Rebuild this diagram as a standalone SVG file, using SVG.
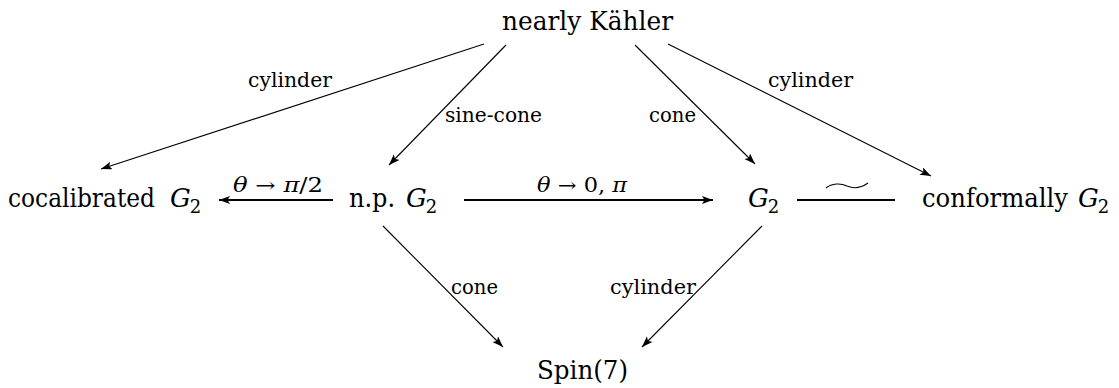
<svg xmlns="http://www.w3.org/2000/svg" width="1119" height="388" viewBox="0 0 1119 388">
<style>
text{font-family:"DejaVu Serif",serif;fill:#000}
.t{font-size:26px}
.l{font-size:20px}
.i{font-style:italic}
.sb{font-size:18px}
.e{fill:none;stroke:#000;stroke-width:1.1}
.h{fill:none;stroke:#000;stroke-width:2}
</style>
<defs>
<marker id="ah" markerUnits="userSpaceOnUse" markerWidth="12" markerHeight="10" refX="11" refY="4" orient="auto">
<path d="M0,0 L11,4 L0,8 L2.5,4 Z" fill="#000"/>
</marker>
</defs>
<rect width="1119" height="388" fill="#fff"/>
<g id="connectors">
<g id="e-nk-cocal"><path class="e" d="M484,44 L101,169" marker-end="url(#ah)"/><text class="l" x="248" y="87" textLength="84" lengthAdjust="spacingAndGlyphs">cylinder</text></g>
<g id="e-nk-np"><path class="e" d="M506,45 L389,165" marker-end="url(#ah)"/><text class="l" x="445" y="122" textLength="97" lengthAdjust="spacingAndGlyphs">sine-cone</text></g>
<g id="e-nk-g2"><path class="e" d="M635,45 L755,164" marker-end="url(#ah)"/><text class="l" x="649" y="122" textLength="47" lengthAdjust="spacingAndGlyphs">cone</text></g>
<g id="e-nk-conf"><path class="e" d="M668,44 L931,176" marker-end="url(#ah)"/><text class="l" x="768" y="87" textLength="85" lengthAdjust="spacingAndGlyphs">cylinder</text></g>
<g id="e-np-cocal"><path class="h" d="M333,200 L219,200" marker-end="url(#ah)"/><text class="l" x="233" y="192" textLength="90" lengthAdjust="spacingAndGlyphs"><tspan class="i">θ</tspan> → <tspan class="i">π</tspan>/2</text></g>
<g id="e-np-g2"><path class="h" d="M464,200 L713,200" marker-end="url(#ah)"/><text class="l" x="537" y="192" textLength="90" lengthAdjust="spacingAndGlyphs"><tspan class="i">θ</tspan> → 0, <tspan class="i">π</tspan></text></g>
<g id="e-g2-conf"><path class="h" d="M797,200 L895,200"/><path class="e" d="M826,188 C832,183 841,183 847,186 C854,189 861,188 868,183"/></g>
<g id="e-np-spin"><path class="e" d="M383,226 L503,347" marker-end="url(#ah)"/><text class="l" x="451" y="294" textLength="47" lengthAdjust="spacingAndGlyphs">cone</text></g>
<g id="e-g2-spin"><path class="e" d="M762,226 L642,347" marker-end="url(#ah)"/><text class="l" x="610" y="294" textLength="86" lengthAdjust="spacingAndGlyphs">cylinder</text></g>
</g>
<g id="n-nk"><text class="t" x="502" y="30" textLength="171" lengthAdjust="spacingAndGlyphs">nearly Kähler</text></g>
<g id="n-cocal"><text class="t" x="8" y="207" textLength="147" lengthAdjust="spacingAndGlyphs">cocalibrated</text><text class="t" x="170" y="207"><tspan class="i">G</tspan><tspan class="sb" dx="-1" dy="6">2</tspan></text></g>
<g id="n-np"><text class="t" x="349" y="207" textLength="46" lengthAdjust="spacingAndGlyphs">n.p.</text><text class="t" x="406" y="207"><tspan class="i">G</tspan><tspan class="sb" dx="-1" dy="6">2</tspan></text></g>
<g id="n-g2"><text class="t" x="748" y="207"><tspan class="i">G</tspan><tspan class="sb" dx="-1" dy="6">2</tspan></text></g>
<g id="n-conf"><text class="t" x="922" y="207" textLength="146" lengthAdjust="spacingAndGlyphs">conformally</text><text class="t" x="1078" y="207"><tspan class="i">G</tspan><tspan class="sb" dx="-1" dy="6">2</tspan></text></g>
<g id="n-spin"><text class="t" x="537" y="379" textLength="91" lengthAdjust="spacingAndGlyphs">Spin(7)</text></g>
</svg>
